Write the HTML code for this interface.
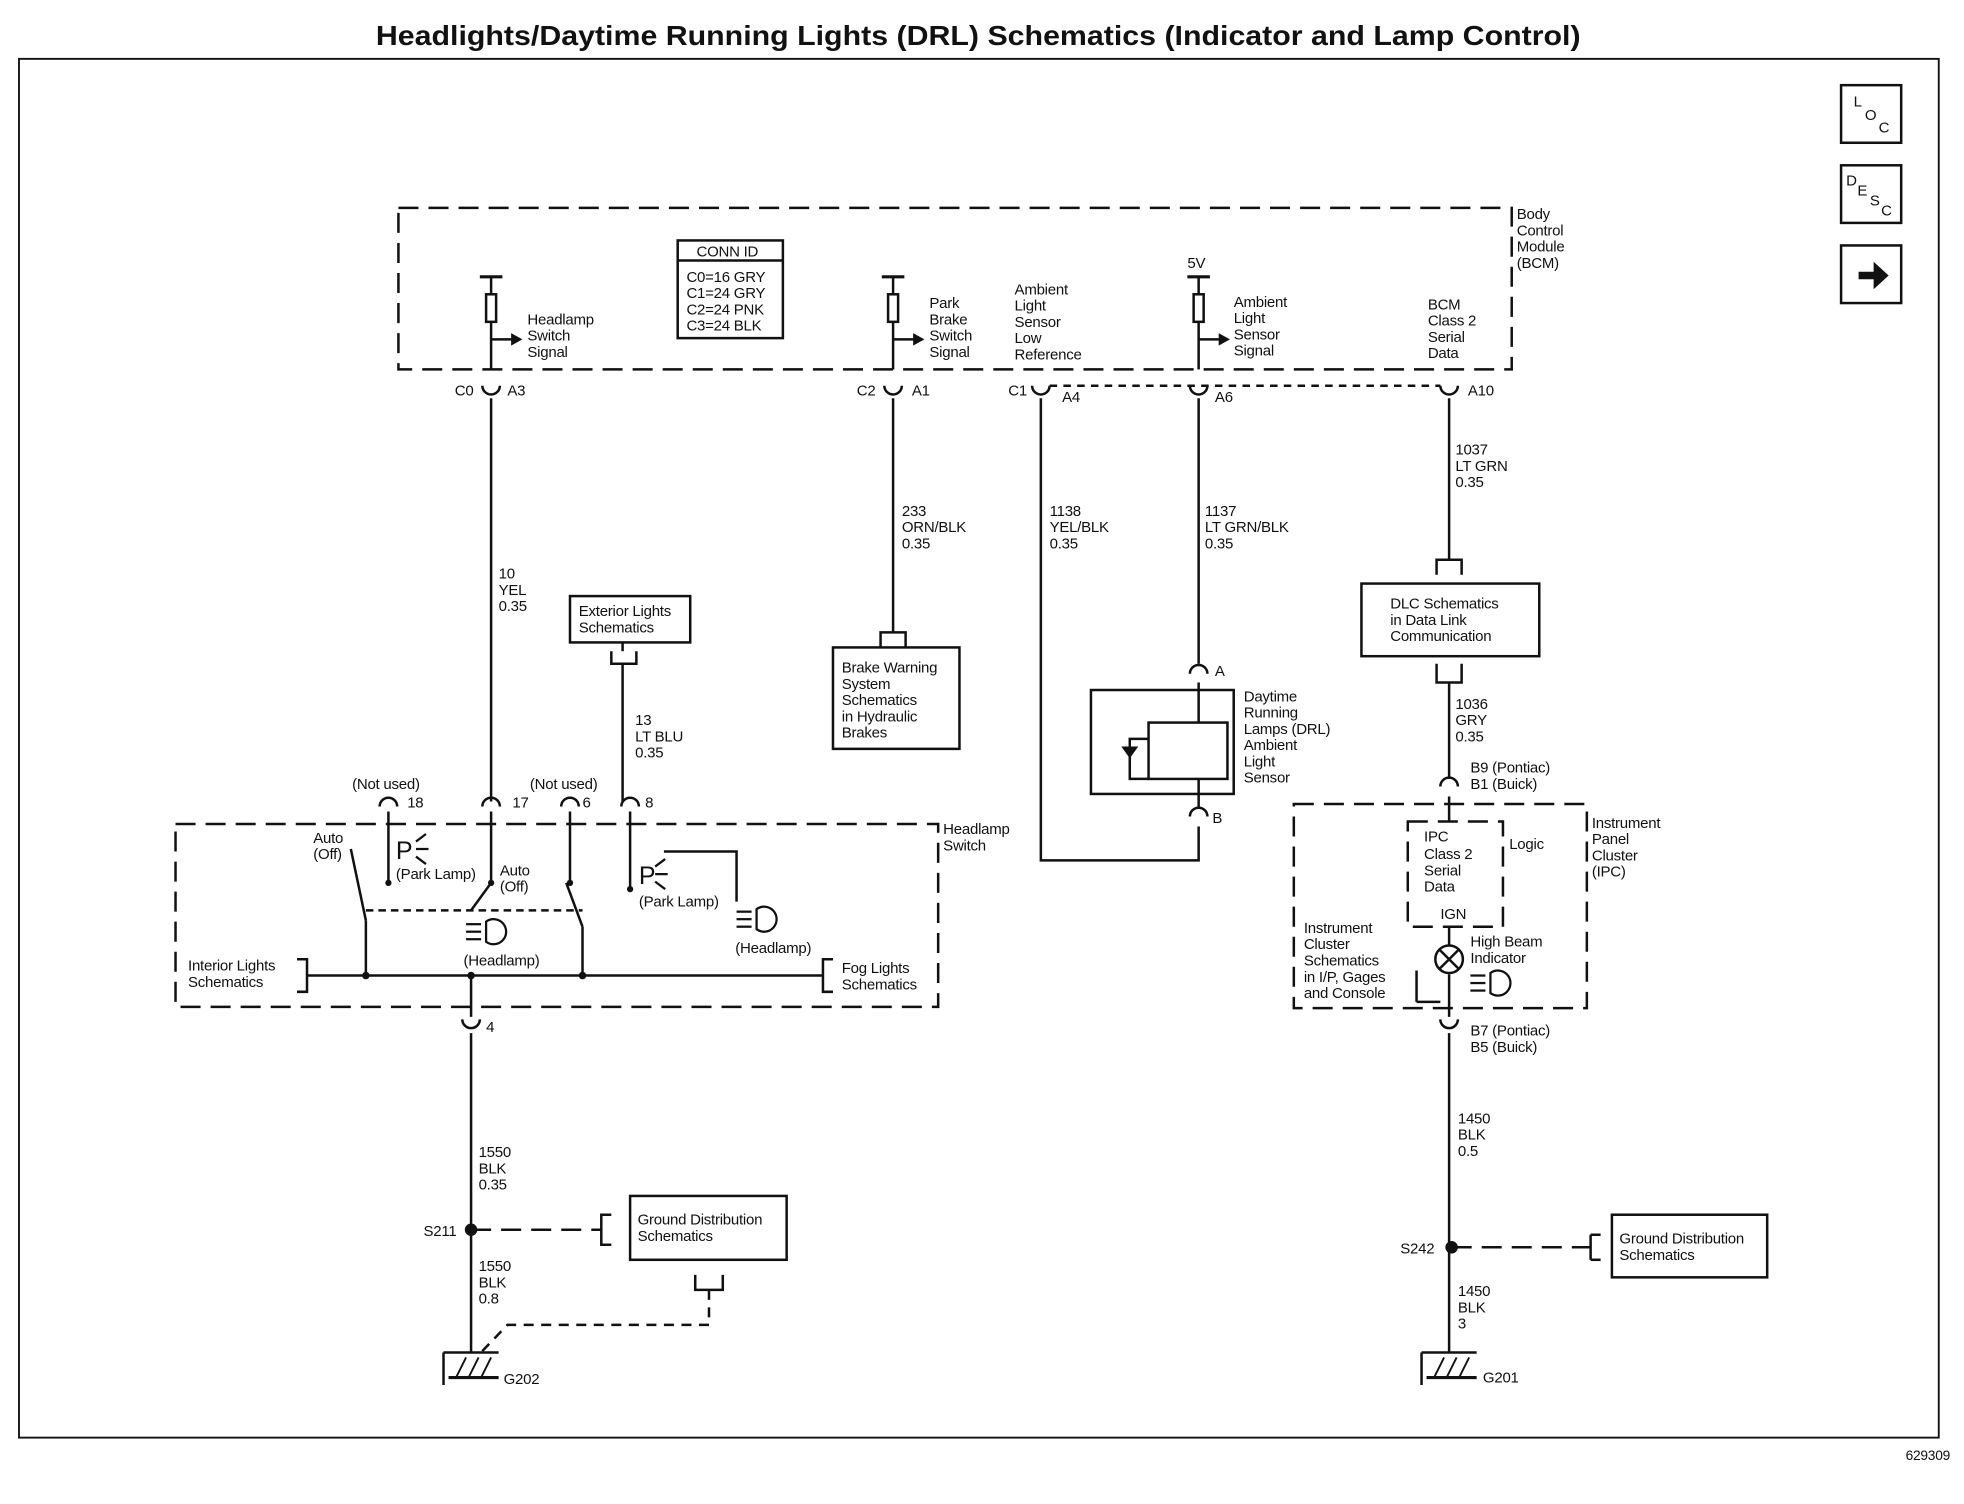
<!DOCTYPE html>
<html><head><meta charset="utf-8"><style>
html,body{margin:0;padding:0;background:#fff;}
svg{display:block;}
text{font-family:"Liberation Sans",Arial,sans-serif;font-size:12px;fill:#111;letter-spacing:-0.2px;}
</style></head><body>
<svg width="1964" height="1504" viewBox="0 0 1568 1201" xmlns="http://www.w3.org/2000/svg">
<defs>
<g id="conn"><path d="M-7,-4 A7,7 0 0 0 7,-4" fill="none" stroke="#111" stroke-width="2"/></g>
<g id="connU"><path d="M-7,4 A7,7 0 0 1 7,4" fill="none" stroke="#111" stroke-width="2"/></g>
<g id="res"><line x1="-9" y1="0" x2="9" y2="0" stroke="#111" stroke-width="2.5"/><line x1="0" y1="0" x2="0" y2="14" stroke="#111" stroke-width="2"/><rect x="-4" y="14" width="8" height="22" fill="#fff" stroke="#111" stroke-width="2"/><line x1="0" y1="36" x2="0" y2="74" stroke="#111" stroke-width="2"/><line x1="0" y1="50" x2="18" y2="50" stroke="#111" stroke-width="2"/><path d="M16,45 L25,50 L16,55Z" fill="#111"/></g>
<g id="gnd"><line x1="-22" y1="0" x2="22" y2="0" stroke="#111" stroke-width="2"/><line x1="-22" y1="0" x2="-22" y2="26" stroke="#111" stroke-width="2"/><line x1="-18" y1="20" x2="22" y2="20" stroke="#111" stroke-width="2.5"/><line x1="-12" y1="20" x2="-4" y2="4" stroke="#111" stroke-width="1.5"/><line x1="-2" y1="20" x2="6" y2="4" stroke="#111" stroke-width="1.5"/><line x1="8" y1="20" x2="16" y2="4" stroke="#111" stroke-width="1.5"/></g>
</defs>
<g fill="none" stroke="#111" stroke-width="2">
<rect x="15" y="47" width="1533" height="1101" stroke-width="1.5"/>
<rect x="1470" y="68" width="48" height="46"/>
<rect x="1470" y="132" width="48" height="46"/>
<rect x="1470" y="196" width="48" height="46"/>
<g stroke-dasharray="16,8">
<rect x="318" y="166" width="889" height="129"/>
<rect x="140" y="658" width="609" height="146"/>
<rect x="1033" y="642" width="234" height="163"/>
<rect x="1124" y="656" width="76" height="84"/>
<line x1="838" y1="308" x2="1150" y2="308" stroke-dasharray="6,5"/>
<line x1="376" y1="982" x2="480" y2="982"/>
<line x1="1159" y1="996" x2="1270" y2="996"/>
<polyline points="566,1030 566,1058 405,1058 382,1082" stroke-dasharray="8,6"/>
<line x1="292" y1="727" x2="465" y2="727" stroke-dasharray="6,4"/>
</g>
<rect x="541" y="192" width="84" height="78"/><line x1="541" y1="208" x2="625" y2="208"/>
<rect x="665" y="517" width="101" height="81"/>
<rect x="455" y="476" width="96" height="37"/>
<rect x="1087" y="466" width="142" height="58"/>
<rect x="871" y="551" width="114" height="83"/>
<rect x="917" y="577" width="63" height="45"/>
<rect x="503" y="955" width="125" height="51"/>
<rect x="1287" y="970" width="124" height="50"/>
<line x1="392" y1="318" x2="392" y2="640"/>
<line x1="713" y1="318" x2="713" y2="505"/>
<polyline points="703,517 703,505 723,505 723,517"/>
<polyline points="831,318 831,687 957,687 957,660"/>
<line x1="957" y1="318" x2="957" y2="530"/>
<line x1="957" y1="545" x2="957" y2="577"/><line x1="957" y1="622" x2="957" y2="645"/>
<polyline points="917,590 902,590 902,622 917,622"/><line x1="902" y1="600" x2="902" y2="612"/>
<line x1="1157" y1="318" x2="1157" y2="447"/>
<polyline points="1147,459 1147,447 1167,447 1167,459"/>
<polyline points="1147,530 1147,545 1167,545 1167,530"/>
<line x1="1157" y1="545" x2="1157" y2="622"/>
<line x1="1157" y1="636" x2="1157" y2="656"/>
<line x1="1157" y1="740" x2="1157" y2="755"/>
<line x1="1157" y1="778" x2="1157" y2="812"/>
<line x1="1157" y1="825" x2="1157" y2="1080"/>
<polyline points="1270,986 1270,1006"/><line x1="1270" y1="986" x2="1278" y2="986"/><line x1="1270" y1="1006" x2="1278" y2="1006"/>
<polyline points="488,520 488,530 508,530 508,520"/>
<line x1="497" y1="513" x2="497" y2="520"/><line x1="497" y1="530" x2="497" y2="640"/>
<line x1="245" y1="779" x2="657" y2="779"/>
<polyline points="237,766 245,766 245,792 237,792"/>
<polyline points="665,766 657,766 657,792 665,792"/>
<line x1="376" y1="779" x2="376" y2="812"/>
<line x1="376" y1="825" x2="376" y2="1080"/>
<polyline points="488,970 480,970 480,994 488,994"/>
<polyline points="555,1018 555,1030 577,1030 577,1018"/>
<line x1="310" y1="648" x2="310" y2="705"/>
<line x1="280" y1="678" x2="292" y2="735"/><line x1="292" y1="735" x2="292" y2="779"/>
<line x1="392" y1="648" x2="392" y2="705"/><line x1="392" y1="705" x2="376" y2="727"/>
<line x1="455" y1="648" x2="455" y2="705"/><line x1="452" y1="705" x2="465" y2="740"/><line x1="465" y1="740" x2="465" y2="779"/>
<line x1="503" y1="648" x2="503" y2="710"/>
<polyline points="530,680 588,680 588,720"/>
<line x1="1131" y1="775" x2="1131" y2="800"/><line x1="1131" y1="800" x2="1150" y2="800"/>
</g>
<circle cx="310" cy="705" r="2.5" fill="#111"/><circle cx="392" cy="705" r="2.5" fill="#111"/><circle cx="455" cy="705" r="2.5" fill="#111"/><circle cx="503" cy="710" r="2.5" fill="#111"/>
<circle cx="292" cy="779" r="3" fill="#111"/><circle cx="465" cy="779" r="3" fill="#111"/><circle cx="376" cy="779" r="3" fill="#111"/>
<circle cx="376" cy="982" r="5" fill="#111"/><circle cx="1159" cy="996" r="5" fill="#111"/>
<circle cx="1157" cy="766" r="11" fill="#fff" stroke="#111" stroke-width="2"/>
<path d="M1149,758 L1165,774 M1165,758 L1149,774" stroke="#111" stroke-width="2"/>
<path d="M1484,217 L1496,217 L1496,209 L1508,220 L1496,231 L1496,223 L1484,223Z" fill="#111"/>
<use href="#res" x="392" y="221"/><use href="#res" x="713" y="221"/><use href="#res" x="957" y="221"/>
<use href="#conn" x="392" y="312"/><use href="#conn" x="713" y="312"/><use href="#conn" x="831" y="312"/><use href="#conn" x="957" y="312"/><use href="#conn" x="1157" y="312"/>
<use href="#connU" x="310" y="640"/><use href="#connU" x="392" y="640"/><use href="#connU" x="455" y="640"/><use href="#connU" x="503" y="640"/>
<use href="#connU" x="957" y="534"/><use href="#connU" x="957" y="648"/><use href="#connU" x="1157" y="624"/>
<use href="#conn" x="376" y="818"/><use href="#conn" x="1157" y="818"/>
<use href="#gnd" x="376" y="1080"/><use href="#gnd" x="1157" y="1080"/>
<g fill="none" stroke="#111" stroke-width="1.8">
<path d="M388,736 A10,10 0 1 1 388,752Z"/><line x1="372" y1="738" x2="384" y2="738"/><line x1="372" y1="744" x2="384" y2="744"/><line x1="372" y1="750" x2="384" y2="750"/>
<path d="M604,726 A10,10 0 1 1 604,742Z"/><line x1="588" y1="728" x2="600" y2="728"/><line x1="588" y1="734" x2="600" y2="734"/><line x1="588" y1="740" x2="600" y2="740"/>
<path d="M1190,777 A10,10 0 1 1 1190,793Z"/><line x1="1174" y1="779" x2="1186" y2="779"/><line x1="1174" y1="785" x2="1186" y2="785"/><line x1="1174" y1="791" x2="1186" y2="791"/>
<path d="M332,672 L340,666 M332,678 L342,678 M332,684 L340,690"/>
<path d="M523,692 L531,686 M523,698 L533,698 M523,704 L531,710"/>
<path d="M897,597 L907,597 L902,604Z" fill="#111"/>
</g>
<text x="316" y="686" style="font-size:20px">P</text><text x="510" y="706" style="font-size:20px">P</text>
<text x="300" y="36" textLength="962" lengthAdjust="spacingAndGlyphs" style="font-size:22px;font-weight:bold;letter-spacing:0">Headlights/Daytime Running Lights (DRL) Schematics (Indicator and Lamp Control)</text>
<text x="1557" y="1166" text-anchor="end" style="font-size:11px">629309</text>
<text x="1480" y="85">L</text><text x="1489" y="96">O</text><text x="1500" y="106">C</text>
<text x="1474" y="148">D</text><text x="1483" y="156">E</text><text x="1493" y="164">S</text><text x="1502" y="172">C</text>
<g>
<text x="556" y="205">CONN ID</text><text x="548" y="225">C0=16 GRY</text><text x="548" y="238">C1=24 GRY</text><text x="548" y="251">C2=24 PNK</text><text x="548" y="264">C3=24 BLK</text>
<text x="421" y="259">Headlamp</text><text x="421" y="272">Switch</text><text x="421" y="285">Signal</text>
<text x="742" y="246">Park</text><text x="742" y="259">Brake</text><text x="742" y="272">Switch</text><text x="742" y="285">Signal</text>
<text x="810" y="235">Ambient</text><text x="810" y="248">Light</text><text x="810" y="261">Sensor</text><text x="810" y="274">Low</text><text x="810" y="287">Reference</text>
<text x="948" y="214">5V</text>
<text x="985" y="245">Ambient</text><text x="985" y="258">Light</text><text x="985" y="271">Sensor</text><text x="985" y="284">Signal</text>
<text x="1140" y="247">BCM</text><text x="1140" y="260">Class 2</text><text x="1140" y="273">Serial</text><text x="1140" y="286">Data</text>
<text x="1211" y="175">Body</text><text x="1211" y="188">Control</text><text x="1211" y="201">Module</text><text x="1211" y="214">(BCM)</text>
<text x="363" y="316">C0</text><text x="405" y="316">A3</text><text x="684" y="316">C2</text><text x="728" y="316">A1</text>
<text x="805" y="316">C1</text><text x="848" y="321">A4</text><text x="970" y="321">A6</text><text x="1172" y="316">A10</text>
<text x="398" y="462">10</text><text x="398" y="475">YEL</text><text x="398" y="488">0.35</text>
<text x="720" y="412">233</text><text x="720" y="425">ORN/BLK</text><text x="720" y="438">0.35</text>
<text x="838" y="412">1138</text><text x="838" y="425">YEL/BLK</text><text x="838" y="438">0.35</text>
<text x="962" y="412">1137</text><text x="962" y="425">LT GRN/BLK</text><text x="962" y="438">0.35</text>
<text x="1162" y="363">1037</text><text x="1162" y="376">LT GRN</text><text x="1162" y="389">0.35</text>
<text x="462" y="492">Exterior Lights</text><text x="462" y="505">Schematics</text>
<text x="672" y="537">Brake Warning</text><text x="672" y="550">System</text><text x="672" y="563">Schematics</text><text x="672" y="576">in Hydraulic</text><text x="672" y="589">Brakes</text>
<text x="1110" y="486">DLC Schematics</text><text x="1110" y="499">in Data Link</text><text x="1110" y="512">Communication</text>
<text x="507" y="579">13</text><text x="507" y="592">LT BLU</text><text x="507" y="605">0.35</text>
<text x="1162" y="566">1036</text><text x="1162" y="579">GRY</text><text x="1162" y="592">0.35</text>
<text x="970" y="540">A</text><text x="968" y="657">B</text>
<text x="993" y="560">Daytime</text><text x="993" y="573">Running</text><text x="993" y="586">Lamps (DRL)</text><text x="993" y="599">Ambient</text><text x="993" y="612">Light</text><text x="993" y="625">Sensor</text>
<text x="1174" y="617">B9 (Pontiac)</text><text x="1174" y="630">B1 (Buick)</text>
<text x="1271" y="661">Instrument</text><text x="1271" y="674">Panel</text><text x="1271" y="687">Cluster</text><text x="1271" y="700">(IPC)</text>
<text x="1137" y="672">IPC</text><text x="1137" y="686">Class 2</text><text x="1137" y="699">Serial</text><text x="1137" y="712">Data</text><text x="1205" y="678">Logic</text>
<text x="1150" y="734">IGN</text>
<text x="1174" y="756">High Beam</text><text x="1174" y="769">Indicator</text>
<text x="1041" y="745">Instrument</text><text x="1041" y="758">Cluster</text><text x="1041" y="771">Schematics</text><text x="1041" y="784">in I/P, Gages</text><text x="1041" y="797">and Console</text>
<text x="1174" y="827">B7 (Pontiac)</text><text x="1174" y="840">B5 (Buick)</text>
<text x="1164" y="897">1450</text><text x="1164" y="910">BLK</text><text x="1164" y="923">0.5</text>
<text x="1118" y="1001">S242</text>
<text x="1293" y="993">Ground Distribution</text><text x="1293" y="1006">Schematics</text>
<text x="1164" y="1035">1450</text><text x="1164" y="1048">BLK</text><text x="1164" y="1061">3</text>
<text x="1184" y="1104">G201</text>
<text x="281" y="630">(Not used)</text><text x="325" y="645">18</text><text x="409" y="645">17</text>
<text x="423" y="630">(Not used)</text><text x="465" y="645">6</text><text x="515" y="645">8</text>
<text x="753" y="666">Headlamp</text><text x="753" y="679">Switch</text>
<text x="250" y="673">Auto</text><text x="250" y="686">(Off)</text>
<text x="316" y="702">(Park Lamp)</text>
<text x="399" y="699">Auto</text><text x="399" y="712">(Off)</text>
<text x="510" y="724">(Park Lamp)</text>
<text x="370" y="771">(Headlamp)</text><text x="587" y="761">(Headlamp)</text>
<text x="150" y="775">Interior Lights</text><text x="150" y="788">Schematics</text>
<text x="672" y="777">Fog Lights</text><text x="672" y="790">Schematics</text>
<text x="388" y="824">4</text>
<text x="382" y="924">1550</text><text x="382" y="937">BLK</text><text x="382" y="950">0.35</text>
<text x="338" y="987">S211</text>
<text x="509" y="978">Ground Distribution</text><text x="509" y="991">Schematics</text>
<text x="382" y="1015">1550</text><text x="382" y="1028">BLK</text><text x="382" y="1041">0.8</text>
<text x="402" y="1105">G202</text>
</g>
</svg>
</body></html>
